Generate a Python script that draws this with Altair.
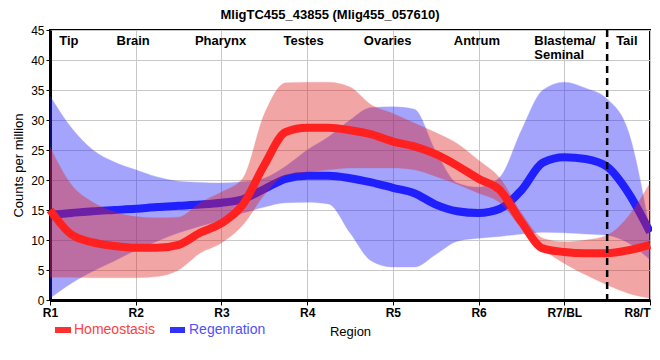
import altair as alt
import pandas as pd

# Region positions (index along x axis) at which values were read
positions = [0, 0.25, 0.5, 0.75, 1, 1.25, 1.5, 1.75, 2, 2.25, 2.5, 2.75, 3, 3.25, 3.5,
             3.75, 4, 4.25, 4.5, 4.75, 5, 5.25, 5.5, 5.75, 6, 6.25, 6.5, 6.75, 7]

homeo_mean = [15, 10.9, 9.6, 9.0, 8.7, 8.7, 9.2, 11.2, 12.8, 15.9, 22.5, 28.0, 28.7, 28.7, 28.3,
              27.6, 26.4, 25.6, 24.3, 22.4, 20.2, 18.3, 13.0, 8.6, 8.0, 7.8, 7.8, 8.3, 9.2]
homeo_upper = [25.5, 19.2, 16.3, 14.7, 13.9, 13.7, 13.8, 16.2, 18.0, 20.3, 31.0, 36.2, 36.3, 36.3, 35.5,
               32.5, 31.1, 29.5, 27.9, 26.1, 23.3, 20.3, 14.5, 10.3, 9.7, 10.0, 10.8, 14.0, 19.5]
homeo_lower = [3.8, 3.8, 3.7, 3.7, 3.7, 3.9, 5.0, 7.8, 9.5, 12.5, 17.5, 20.8, 21.3, 21.7, 22.0,
               22.0, 22.0, 21.7, 20.6, 19.3, 17.8, 16.2, 12.0, 8.5, 6.1, 4.2, 2.5, 1.1, 0.3]

regen_mean = [14.2, 14.5, 14.8, 15.0, 15.2, 15.5, 15.7, 15.9, 16.2, 16.8, 18.5, 20.2, 20.7, 20.7, 20.3,
              19.6, 18.7, 17.8, 15.9, 14.8, 14.5, 15.2, 18.3, 22.9, 23.8, 23.5, 22.2, 17.8, 11.3]
regen_upper = [34.0, 28.7, 25.0, 23.0, 21.7, 20.5, 19.8, 19.6, 19.5, 19.7, 20.3, 22.3, 25.0, 27.2, 30.0,
               32.1, 32.2, 31.8, 24.8, 19.5, 18.8, 20.5, 28.3, 35.0, 36.3, 35.3, 33.5, 28.0, 11.5]
regen_lower = [0.3, 2.8, 4.8, 6.5, 8.3, 9.8, 11.2, 12.3, 13.3, 14.5, 15.5, 16.2, 16.3, 16.0, 11.2,
               6.5, 5.5, 5.5, 7.6, 9.8, 10.3, 10.6, 11.0, 11.3, 11.2, 11.0, 10.8, 9.5, 6.7]

tick_labels = ["R1", "R2", "R3", "R4", "R5", "R6", "R7/BL", "R8/T"]
y_ticks = [0, 5, 10, 15, 20, 25, 30, 35, 40, 45]
region_names = ["Tip", "Brain", "Pharynx", "Testes", "Ovaries", "Antrum", "Tail"]
region_pos = [0.22, 0.97, 1.99, 2.96, 3.94, 4.98, 6.73]
blastema_text = ["Blastema/", "Seminal"]
blastema_pos = [5.65]
divider_pos = [6.5]
series_names = ["Homeostasis", "Regenration"]

df = pd.DataFrame({
    "pos": positions,
    "h_mean": homeo_mean, "h_up": homeo_upper, "h_lo": homeo_lower,
    "r_mean": regen_mean, "r_up": regen_upper, "r_lo": regen_lower,
})

FONT = "Liberation Sans"
RED = "#ff2020"
BLUE = "#2020ff"

last_tick = len(tick_labels) - 1
label_expr = "[" + ",".join("'%s'" % t for t in tick_labels) + "][datum.value]"
x_scale = alt.Scale(domain=[0, last_tick], nice=False, zero=False)
y_scale = alt.Scale(domain=[0, 45], nice=False, zero=True)

x_axis = alt.Axis(
    values=list(range(len(tick_labels))), labelExpr=label_expr, title="Region",
    labelFont=FONT, labelFontSize=12, labelFontWeight="bold", labelColor="black",
    labelAlign={"condition": {"test": "datum.value == %d" % last_tick, "value": "right"},
                "value": "center"},
    titleFont=FONT, titleFontSize=13, titleFontWeight="normal", titleColor="black",
    titlePadding=7, domainColor="black", domainWidth=3, tickColor="black",
    tickSize=5, labelPadding=2, gridColor="#c8c8c8", gridWidth=1,
    labelOverlap=False, labelFlush=False,
)
y_axis = alt.Axis(
    values=y_ticks, title="Counts per million",
    labelFont=FONT, labelFontSize=12, labelColor="black",
    titleFont=FONT, titleFontSize=13, titleFontWeight="normal", titleColor="black",
    titlePadding=5, domainColor="black", domainWidth=3, tickColor="black",
    tickSize=4, labelPadding=2, gridColor="#c8c8c8", gridWidth=1,
    labelOverlap=False,
)


def X():
    return alt.X("pos:Q", scale=x_scale, axis=x_axis)


def Y(field):
    return alt.Y(field + ":Q", scale=y_scale, axis=y_axis)


base = alt.Chart(df)

regen_band = base.mark_area(
    interpolate="monotone", color="#2828fa", opacity=0.42,
    stroke="#2828fa", strokeOpacity=0.35, strokeWidth=1,
).encode(x=X(), y=Y("r_lo"), y2="r_up:Q")

regen_line = base.mark_line(
    interpolate="monotone", color=BLUE, strokeWidth=8,
).encode(x=X(), y=Y("r_mean"))

homeo_band = base.mark_area(
    interpolate="monotone", color="#e02020", opacity=0.4,
    stroke="#e02020", strokeOpacity=0.3, strokeWidth=1,
).encode(x=X(), y=Y("h_lo"), y2="h_up:Q")

homeo_line = base.mark_line(
    interpolate="monotone", color=RED, strokeWidth=8,
).encode(x=X(), y=Y("h_mean"))

divider = alt.Chart(pd.DataFrame({"pos": divider_pos})).mark_rule(
    color="black", strokeWidth=2.5, strokeDash=[7, 5]
).encode(x=X())

region_df = pd.DataFrame({"pos": region_pos, "name": region_names, "yv": [42.5] * len(region_pos)})
region_text = alt.Chart(region_df).mark_text(
    font=FONT, fontSize=13, fontWeight="bold", color="black", align="center", baseline="alphabetic"
).encode(x=X(), y=Y("yv"), text="name:N")

blast_df = pd.DataFrame({"pos": blastema_pos, "yv": [42.5]})
blast_text = alt.Chart(blast_df).mark_text(
    font=FONT, fontSize=13, fontWeight="bold", color="black", align="left",
    baseline="alphabetic", lineHeight=14, text=blastema_text,
).encode(x=X(), y=Y("yv"))

leg_src = pd.DataFrame({"label": [series_names[0]]})
leg_h_rect = alt.Chart(leg_src).mark_rect(color="#ff3030").encode(
    x=alt.value(5), x2=alt.value(21), y=alt.value(297), y2=alt.value(303))
leg_h_text = alt.Chart(leg_src).mark_text(
    font=FONT, fontSize=14, color="#ff4040", align="left", baseline="middle"
).encode(x=alt.value(24), y=alt.value(300), text="label:N")
leg_src2 = pd.DataFrame({"label": [series_names[1]]})
leg_r_rect = alt.Chart(leg_src2).mark_rect(color="#3030ff").encode(
    x=alt.value(120), x2=alt.value(135), y=alt.value(297), y2=alt.value(303))
leg_r_text = alt.Chart(leg_src2).mark_text(
    font=FONT, fontSize=14, color="#5050ff", align="left", baseline="middle"
).encode(x=alt.value(139), y=alt.value(300), text="label:N")

chart = alt.layer(
    regen_band, regen_line, homeo_band, homeo_line, divider, region_text, blast_text,
    leg_h_rect, leg_h_text, leg_r_rect, leg_r_text,
).properties(
    width=600, height=270,
    title=alt.TitleParams(
        "MligTC455_43855 (Mlig455_057610)", font=FONT, fontSize=13, fontWeight="bold",
        color="black", anchor="middle", dx=-20, dy=-2, offset=0,
    ),
    autosize=alt.AutoSizeParams(type="none"),
    padding={"left": 42, "top": 22, "right": 2, "bottom": 50},
).configure(background="white").configure_view(stroke="black", strokeWidth=2)

chart.save("out.html", embed_options={"renderer": "svg", "actions": False})
